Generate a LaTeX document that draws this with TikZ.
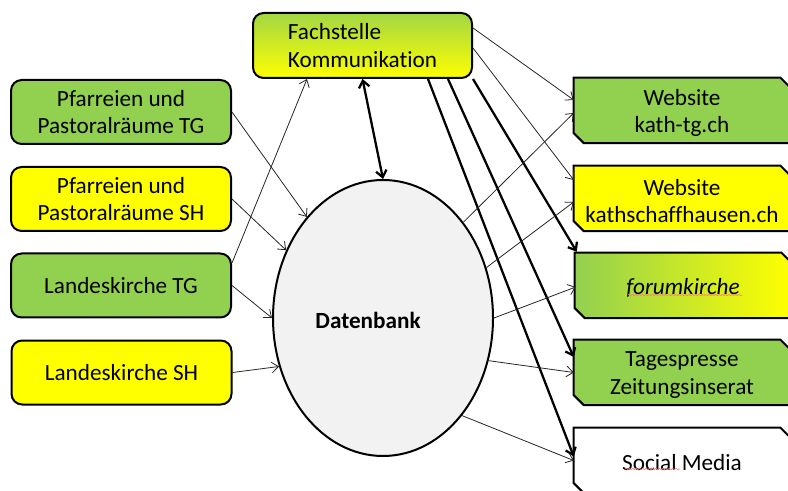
\documentclass[tikz,border=0pt]{standalone}
\usepackage{fontspec}
\setmainfont[Ligatures=NoCommon]{Carlito}
\usetikzlibrary{arrows.meta,calc,backgrounds,shapes.geometric,decorations.pathmorphing}
\definecolor{lgreen}{HTML}{92D050}
\definecolor{lyellow}{HTML}{FFFF00}
\definecolor{dbgray}{HTML}{F2F2F2}
\definecolor{spellred}{HTML}{F08080}
\newcommand\snipbox[2]{\path[snipline,#2] ([yshift=2pt]#1.north west) -- ([xshift=-7.5pt,yshift=2pt]#1.north east) -- ([yshift=-5.5pt]#1.north east) -- ([yshift=2pt]#1.south east) -- ([xshift=7.5pt,yshift=2pt]#1.south west) -- ([yshift=9.5pt]#1.south west) -- cycle;}
\tikzset{
  txt/.style={font=\fontsize{17.4}{20.7}\selectfont},
  lbox/.style={txt, draw=black, line width=1.5pt, rounded corners=8pt, minimum width=165pt, minimum height=48pt, align=center, inner sep=0pt},
  rboxnode/.style={txt, minimum width=162pt, minimum height=48.75pt, align=center, inner sep=0pt},
  snipline/.style={draw=black, line width=1.5pt},
  thinarrow/.style={line width=0.6pt, draw=black!85, -{Straight Barb[length=5pt,width=8pt]}},
  boldarrow/.style={line width=1.7pt, draw=black, -{Straight Barb[length=5pt,width=8pt]}},
  squiggle/.style={draw=spellred, line width=0.5pt, decorate, decoration={snake, amplitude=0.5pt, segment length=2.5pt}},
}
\begin{document}
\begin{tikzpicture}[x=0.75pt,y=-0.75pt]
\useasboundingbox (0,0) rectangle (788,491);
% left boxes
\node[lbox, fill=lgreen] (ptg) at (121,112) {Pfarreien und\\Pastoralräume TG};
\node[lbox, fill=lyellow] (psh) at (121,199) {Pfarreien und\\Pastoralräume SH};
\node[lbox, fill=lgreen] (ltg) at (121,285.5) {Landeskirche TG};
\node[lbox, fill=lyellow] (lsh) at (121.5,372.5) {Landeskirche SH};
% top box
\node[lbox, minimum width=164.25pt, minimum height=48.75pt, top color=lgreen!85!lyellow, bottom color=lyellow, align=left] (fs) at (362.5,45.5) {Fachstelle\\Kommunikation};
% database
\node[ellipse, draw=black, line width=1.5pt, fill=dbgray, minimum width=165pt, minimum height=207pt, inner sep=0pt] (db) at (383,318) {};
\node[txt, font=\fontsize{17.4}{20.7}\selectfont\bfseries] (dbl) at (368,320) {Datenbank};
% right boxes (text centres sit 2.5px below the box centres)
\node[rboxnode] (w1) at (682,113) {Website\\kath-tg.ch};
\node[rboxnode] (w2) at (682,201) {Website\\kathschaffhausen.ch};
\node[rboxnode] (fk) at (683,288) {\itshape forumkirche};
\node[rboxnode] (tp) at (682,375) {Tagespresse\\Zeitungsinserat};
\node[rboxnode] (sm) at (682,463) {Social Media};
\begin{scope}[on background layer]
  \snipbox{w1}{fill=lgreen}
  \snipbox{w2}{fill=lyellow}
  \snipbox{fk}{left color=lgreen, right color=lyellow}
  \snipbox{tp}{fill=lgreen}
  \snipbox{sm}{fill=white}
\end{scope}
\draw[squiggle] ($(fk.center)+(-55,7)$) -- ($(fk.center)+(59,7)$);
\draw[squiggle] ($(sm.center)+(-57,6)$) -- ($(sm.center)+(-2,6)$);
% connectors left
\draw[thinarrow] (ptg.east) -- (db.127.8);
\draw[thinarrow] (psh.east) -- (db.145.6);
\draw[thinarrow] (ltg.east) -- (db.180);
\draw[thinarrow] (lsh.east) -- (db.205);
\draw[thinarrow] ($(ltg.east)+(0,-22.5)$) -- ($(fs.south)+(-55.5,0)$);
% fachstelle <-> db
\draw[line width=1.7pt, {Straight Barb[length=5pt,width=8pt]}-{Straight Barb[length=5pt,width=8pt]}] (fs.south) -- (db.north);
% fachstelle to right
\draw[thinarrow] ($(fs.east)+(0,-17.5)$) -- ($(w1.west)+(0,-13)$);
\draw[thinarrow] ($(fs.east)+(0,2.5)$) -- ($(w2.west)+(0,-21)$);
\draw[boldarrow] (fs.south east) -- ($(fk.north west)+(2,-3.5)$);
\draw[boldarrow] ($(fs.south)+(85.5,0)$) -- ($(tp.west)+(0,-18)$);
\draw[boldarrow] ($(fs.south)+(65.5,0)$) -- ($(sm.west)+(0,-6.5)$);
% db to right
\draw[thinarrow] (db.50.8) -- ($(w1.west)+(0,0)$);
\draw[thinarrow] (db.26.1) -- ($(w2.west)+(0,1)$);
\draw[thinarrow] (db.0) -- ($(fk.west)+(1,-1)$);
\draw[thinarrow] (db.-22.8) -- ($(tp.west)+(0,-2.5)$);
\draw[thinarrow] (db.-51) -- ($(sm.west)+(0,-2.5)$);
\end{tikzpicture}
\end{document}
